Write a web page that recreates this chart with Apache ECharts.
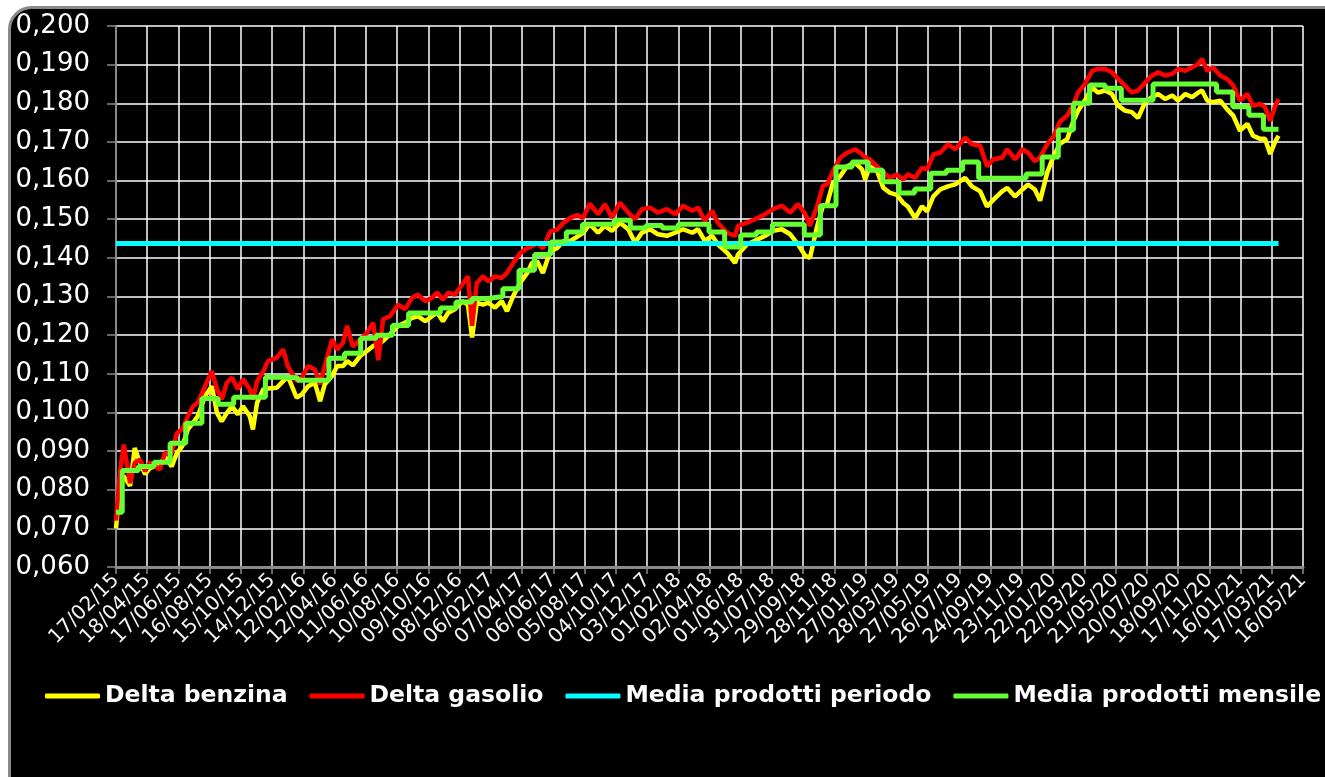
<!DOCTYPE html>
<html><head><meta charset="utf-8">
<script src="https://cdn.jsdelivr.net/npm/echarts/dist/echarts.min.js"></script>
<style>html,body{margin:0;padding:0;background:#fff}#c{width:1325px;height:777px}</style>
</head><body><div id="c"></div>
<script>
// day offsets from 17/02/2015
const giorni = [0,8,15,27,36,46,56,65,84,94,107,117,127,138,148,157,171,184,194,203,213,223,234,244,257,263,271,283,292,309,321,330,347,357,369,382,392,401,415,425,436,444,455,
469,482,494,504,513,526,542,555,569,580,594,607,617,628,638,651,665,676,684,693,705,715,728,741,751,763,776,790,799,809,820,834,847,859,872,886,897,
910,926,939,953,968,984,997,1010,1026,1041,1058,1074,1089,1107,1118,1131,1145,1156,1174,1189,1195,1212,1227,1247,1262,1279,1295,1310,1324,1333,1347,1358,
1366,1377,1391,1404,1420,1433,1439,1448,1462,1474,1487,1500,1512,1521,1535,1548,1558,1570,1583,1598,1612,1631,1644,1660,1673,1685,1702,1712,1727,1741,1752,1765,1775,
1789,1800,1813,1827,1838,1848,1861,1875,1886,1900,1913,1925,1938,1951,1963,1977,1990,2002,2015,2029,2040,2054,2067,2079,2086,2096,2107,2121,2134,2146,2159,2173,2184,2198,2207,2217,2226,2233];
const deltaGasolio = [0.0720,0.0850,0.0917,0.0817,0.0870,0.0878,0.0848,0.0870,0.0852,0.0895,0.0895,0.0947,0.0956,0.0990,0.1016,0.1025,0.1068,0.1107,0.1060,0.1034,0.1077,0.1090,0.1060,0.1086,0.1060,0.1034,0.1081,0.1107,0.1133,0.1142,0.1163,0.1120,0.1081,0.1090,0.1120,0.1111,0.1073,0.1120,0.1189,0.1163,0.1180,0.1224,0.1170,
0.1189,0.1206,0.1232,0.1135,0.1241,0.1249,0.1279,0.1267,0.1297,0.1305,0.1288,0.1297,0.1310,0.1292,0.1310,0.1305,0.1331,0.1352,0.1224,0.1335,0.1352,0.1339,0.1352,0.1348,0.1361,0.1387,0.1412,0.1425,0.1430,0.1438,0.1425,0.1468,0.1473,0.1490,0.1503,0.1511,0.1503,
0.1540,0.1513,0.1539,0.1504,0.1543,0.1517,0.1500,0.1526,0.1530,0.1517,0.1526,0.1513,0.1535,0.1522,0.1530,0.1496,0.1522,0.1491,0.1465,0.1457,0.1483,0.1491,0.1500,0.1513,0.1526,0.1535,0.1517,0.1539,0.1513,0.1483,0.1535,0.1587,
0.1590,0.1624,0.1659,0.1672,0.1681,0.1668,0.1660,0.1655,0.1637,0.1620,0.1607,0.1616,0.1603,0.1616,0.1607,0.1633,0.1629,0.1668,0.1672,0.1694,0.1681,0.1711,0.1694,0.1690,0.1637,0.1655,0.1659,0.1681,0.1655,0.1681,0.1672,0.1650,0.1660,
0.1695,0.1712,0.1752,0.1768,0.1794,0.1828,0.1850,0.1884,0.1889,0.1889,0.1880,0.1863,0.1846,0.1828,0.1833,0.1854,0.1872,0.1880,0.1872,0.1876,0.1889,0.1884,0.1893,0.1902,0.1915,0.1884,0.1893,0.1872,0.1863,0.1846,0.1807,0.1824,0.1794,0.1798,0.1790,0.1755,0.1790,0.1811];
const deltaBenzina = [0.0700,0.0820,0.0835,0.0810,0.0908,0.0870,0.0840,0.0856,0.0865,0.0885,0.0860,0.0895,0.0912,0.0956,0.0973,0.0990,0.1042,0.1068,0.0999,0.0977,0.0999,0.1016,0.0995,0.1016,0.0990,0.0956,0.1025,0.1060,0.1062,0.1064,0.1081,0.1094,0.1038,0.1047,0.1068,0.1077,0.1029,0.1073,0.1094,0.1120,0.1120,0.1133,0.1122,
0.1146,0.1159,0.1172,0.1176,0.1185,0.1202,0.1224,0.1232,0.1245,0.1249,0.1236,0.1249,0.1258,0.1236,0.1258,0.1267,0.1288,0.1279,0.1194,0.1284,0.1279,0.1284,0.1271,0.1288,0.1262,0.1301,0.1335,0.1361,0.1387,0.1391,0.1361,0.1417,0.1425,0.1443,0.1443,0.1455,0.1464,
0.1487,0.1465,0.1483,0.1470,0.1491,0.1474,0.1439,0.1465,0.1474,0.1461,0.1457,0.1465,0.1474,0.1465,0.1474,0.1444,0.1457,0.1435,0.1413,0.1387,0.1409,0.1435,0.1444,0.1457,0.1470,0.1474,0.1461,0.1435,0.1405,0.1400,0.1483,0.1535,
0.1540,0.1594,0.1611,0.1637,0.1646,0.1629,0.1603,0.1637,0.1624,0.1581,0.1568,0.1563,0.1542,0.1533,0.1503,0.1533,0.1520,0.1559,0.1577,0.1585,0.1590,0.1607,0.1585,0.1572,0.1533,0.1550,0.1572,0.1581,0.1559,0.1577,0.1590,0.1577,0.1548,
0.1622,0.1660,0.1695,0.1707,0.1751,0.1781,0.1807,0.1841,0.1828,0.1833,0.1824,0.1794,0.1781,0.1777,0.1762,0.1803,0.1816,0.1824,0.1811,0.1820,0.1807,0.1824,0.1816,0.1828,0.1833,0.1807,0.1803,0.1807,0.1785,0.1768,0.1729,0.1747,0.1716,0.1708,0.1708,0.1669,0.1699,0.1716];
const mesi = ['2015-02','2015-03','2015-04','2015-05','2015-06','2015-07','2015-08','2015-09','2015-10','2015-11','2015-12',
'2016-01','2016-02','2016-03','2016-04','2016-05','2016-06','2016-07','2016-08','2016-09','2016-10','2016-11','2016-12',
'2017-01','2017-02','2017-03','2017-04','2017-05','2017-06','2017-07','2017-08','2017-09','2017-10','2017-11','2017-12',
'2018-01','2018-02','2018-03','2018-04','2018-05','2018-06','2018-07','2018-08','2018-09','2018-10','2018-11','2018-12',
'2019-01','2019-02','2019-03','2019-04','2019-05','2019-06','2019-07','2019-08','2019-09','2019-10','2019-11','2019-12',
'2020-01','2020-02','2020-03','2020-04','2020-05','2020-06','2020-07','2020-08','2020-09','2020-10','2020-11','2020-12',
'2021-01','2021-02','2021-03'];
const mediaMensile = [0.0742,0.0850,0.0860,0.0871,0.0920,0.0972,0.1036,0.1021,0.1039,0.1039,0.1091,
0.1090,0.1083,0.1083,0.1140,0.1153,0.1192,0.1200,0.1225,0.1257,0.1257,0.1270,0.1286,
0.1295,0.1300,0.1320,0.1368,0.1409,0.1441,0.1467,0.1487,0.1487,0.1497,0.1477,0.1484,
0.1477,0.1487,0.1487,0.1467,0.1428,0.1459,0.1467,0.1487,0.1487,0.1459,0.1535,0.1635,
0.1648,0.1627,0.1597,0.1568,0.1578,0.1619,0.1627,0.1648,0.1606,0.1606,0.1606,0.1617,
0.1661,0.1731,0.1800,0.1847,0.1839,0.1808,0.1808,0.1850,0.1850,0.1850,0.1850,0.1829,
0.1791,0.1769,0.1733];
const mediaPeriodo = 0.1437;
const assePeriodoGiorni = 2280; // 17/02/15 .. 16/05/21
const passoGiorni = 60;

const START = Date.UTC(2015,1,17);
const DAY = 86400000;
const pad = n => (n < 10 ? '0' : '') + n;
function fmtDate(v){
  const d = new Date(START + Math.round(v) * DAY);
  return pad(d.getUTCDate()) + '/' + pad(d.getUTCMonth()+1) + '/' + pad(d.getUTCFullYear() % 100);
}
const lastDay = giorni[giorni.length-1];
const benz = giorni.map((g,i)=>[g, deltaBenzina[i]]);
const gas = giorni.map((g,i)=>[g, deltaGasolio[i]]);
const mens = mesi.map((m,i)=>{
  const [y,mo] = m.split('-').map(Number);
  const off = Math.max(0, Math.round((Date.UTC(y,mo-1,1) - START)/DAY));
  return [off, mediaMensile[i]];
});
mens.push([lastDay, mediaMensile[mediaMensile.length-1]]);
const per = [[giorni[0], mediaPeriodo],[lastDay, mediaPeriodo]];

const chart = echarts.init(document.getElementById('c'));
chart.setOption({
  backgroundColor: '#ffffff',
  animation: false,
  graphic: [{
    type: 'rect', z: -10, silent: true,
    shape: {x: 9.5, y: 7.5, width: 1340, height: 800, r: 22},
    style: {fill: '#000000', stroke: '#8a8a8a', lineWidth: 3}
  }],
  grid: {left: 116, right: 22, top: 26, bottom: 210, containLabel: false},
  legend: {
    left: 45, top: 684, padding: 0, width: 1278, itemWidth: 55, itemHeight: 5, itemGap: 22,
    icon: 'roundRect',
    textStyle: {color: '#ffffff', fontSize: 23.5, fontWeight: 'bold', fontFamily: 'DejaVu Sans'},
    data: ['Delta benzina','Delta gasolio','Media prodotti periodo','Media prodotti mensile']
  },
  xAxis: {
    type: 'value', min: 0, max: assePeriodoGiorni, interval: passoGiorni,
    axisLine: {show: true, onZero: false, lineStyle: {color: '#8a8a8a', width: 3}},
    axisTick: {show: true, length: 7, lineStyle: {color: '#8a8a8a', width: 1.5}},
    splitLine: {show: true, lineStyle: {color: '#ffffff', width: 1.5}},
    axisLabel: {color: '#f4f4f4', rotate: 45, fontSize: 20, fontFamily: 'DejaVu Sans', margin: 10, formatter: fmtDate, showMinLabel: true, showMaxLabel: true, hideOverlap: false, interval: 0}
  },
  yAxis: {
    type: 'value', min: 0.06, max: 0.2, interval: 0.01,
    axisLine: {show: true, lineStyle: {color: '#8a8a8a', width: 2}},
    axisTick: {show: true, length: 9, lineStyle: {color: '#8a8a8a', width: 1.5}},
    splitLine: {show: true, lineStyle: {color: '#ffffff', width: 1.5}},
    axisLabel: {color: '#ffffff', fontSize: 26, fontFamily: 'DejaVu Sans', margin: 26, formatter: v => v.toFixed(3).replace('.', ',')}
  },
  series: [
    {name: 'Delta benzina', type: 'line', data: benz, showSymbol: false, symbol: 'none', lineStyle: {color: '#ffff00', width: 4.5}, itemStyle: {color: '#ffff00'}},
    {name: 'Delta gasolio', type: 'line', data: gas, showSymbol: false, symbol: 'none', lineStyle: {color: '#ff0000', width: 4.5}, itemStyle: {color: '#ff0000'}},
    {name: 'Media prodotti periodo', type: 'line', data: per, showSymbol: false, symbol: 'none', lineStyle: {color: '#00ffff', width: 5}, itemStyle: {color: '#00ffff'}},
    {name: 'Media prodotti mensile', type: 'line', step: 'end', data: mens, showSymbol: false, symbol: 'none', lineStyle: {color: '#66ff33', width: 5}, itemStyle: {color: '#66ff33'}}
  ]
});
</script></body></html>
